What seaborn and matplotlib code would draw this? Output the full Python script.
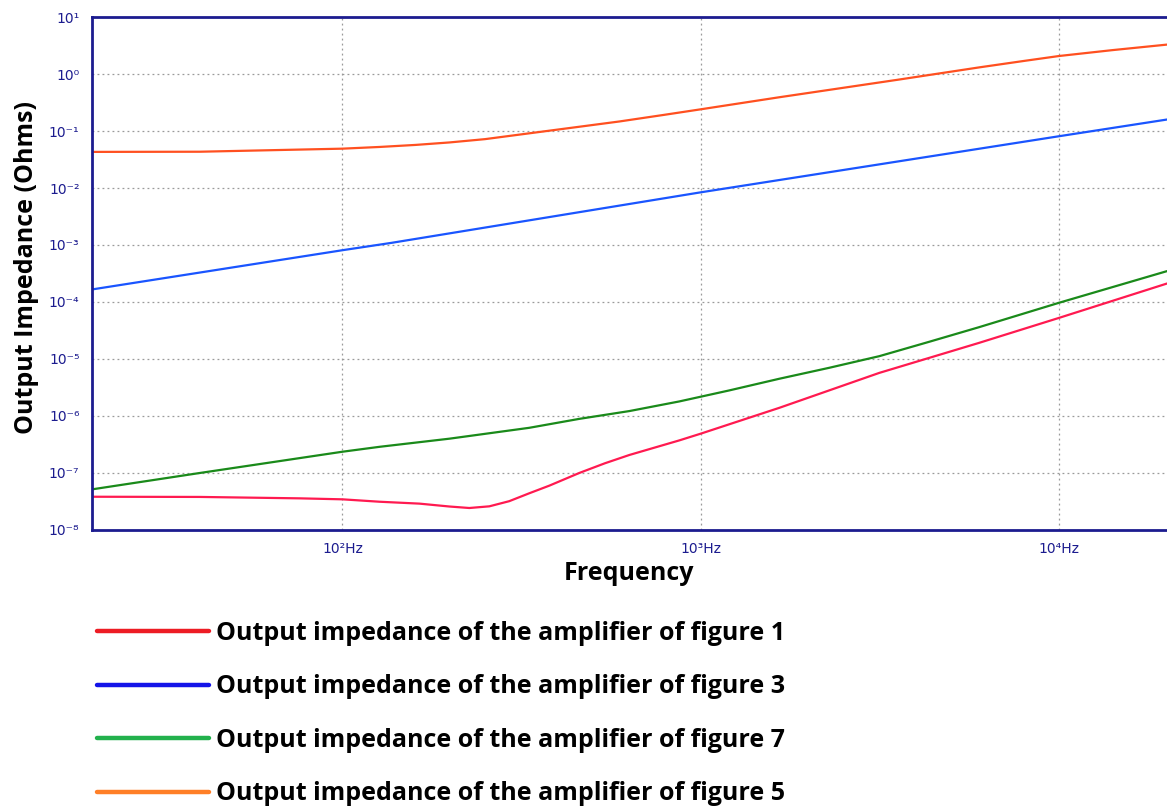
import matplotlib
matplotlib.use("Agg")
import matplotlib.pyplot as plt
from matplotlib.lines import Line2D
from matplotlib.ticker import FixedLocator, FixedFormatter, LogLocator, NullFormatter
import numpy as np
import pandas as pd
import seaborn as sns

# ---- data: output impedance (Ohms) versus frequency (Hz) ----
fig1_freq = [20, 40, 76, 100, 127, 164, 199, 226, 257, 292, 332, 378, 458,
             540, 632, 871, 1000, 1656, 3148, 5982, 10000, 20000]
fig1_z = [3.83e-8, 3.8e-8, 3.59e-8, 3.45e-8, 3.13e-8, 2.9e-8, 2.58e-8, 2.43e-8,
          2.6e-8, 3.2e-8, 4.4e-8, 6.0e-8, 1.0e-7, 1.48e-7, 2.07e-7, 3.73e-7,
          4.9e-7, 1.39e-6, 5.7e-6, 1.92e-5, 5.27e-5, 2.11e-4]

fig3_freq = [20, 100, 137, 1000, 10000, 20000]
fig3_z = [1.66e-4, 8.1e-4, 1.09e-3, 8.4e-3, 8.1e-2, 0.159]

fig7_freq = [20, 40, 100, 127, 199, 332, 458, 632, 871, 1201, 1656, 2281,
             3148, 4335, 5982, 10000, 20000]
fig7_z = [5.16e-8, 1.0e-7, 2.36e-7, 2.88e-7, 4.0e-7, 6.2e-7, 8.9e-7, 1.22e-6,
          1.8e-6, 2.81e-6, 4.5e-6, 7.0e-6, 1.12e-5, 2.0e-5, 3.62e-5, 9.7e-5,
          3.48e-4]

fig5_freq = [20, 40, 100, 127, 160, 199, 250, 354, 450, 593, 790, 990, 1656,
             3579, 6000, 8000, 10000, 14050, 20000]
fig5_z = [0.043, 0.0433, 0.049, 0.0525, 0.057, 0.063, 0.072, 0.096, 0.117,
          0.147, 0.192, 0.238, 0.391, 0.80, 1.31, 1.70, 2.07, 2.62, 3.28]

series_names = ["Output impedance of the amplifier of figure 1",
                "Output impedance of the amplifier of figure 3",
                "Output impedance of the amplifier of figure 7",
                "Output impedance of the amplifier of figure 5"]

x_tick_values = [1e2, 1e3, 1e4]
x_tick_labels = ["10²Hz", "10³Hz", "10⁴Hz"]
y_tick_values = [1e1, 1e0, 1e-1, 1e-2, 1e-3, 1e-4, 1e-5, 1e-6, 1e-7, 1e-8]
y_tick_labels = ["10¹", "10⁰", "10⁻¹", "10⁻²", "10⁻³", "10⁻⁴", "10⁻⁵",
                 "10⁻⁶", "10⁻⁷", "10⁻⁸"]

# ---- styling ----
line_colors = ["#ff1a50", "#1a55ff", "#1a8a1a", "#ff5020"]
legend_colors = ["#ed1c24", "#1414e8", "#22b14c", "#ff7f27"]
navy = "#1c1c8f"

df = pd.concat([
    pd.DataFrame({"freq": f, "z": z, "series": name})
    for f, z, name in zip([fig1_freq, fig3_freq, fig7_freq, fig5_freq],
                          [fig1_z, fig3_z, fig7_z, fig5_z],
                          series_names)
], ignore_index=True)

sns.set_style("white")
plt.rcParams["font.family"] = ["DejaVu Sans"]
plt.rcParams["text.color"] = "black"
plt.rcParams["axes.labelcolor"] = "black"

fig = plt.figure(figsize=(11.67, 8.10), dpi=100)
ax = fig.add_axes([0.0788, 0.3457, 0.9212, 0.6333])

sns.lineplot(data=df, x="freq", y="z", hue="series", hue_order=series_names,
             palette=line_colors, estimator=None, sort=True, linewidth=1.6,
             legend=False, ax=ax)

ax.set_xscale("log")
ax.set_yscale("log")
ax.set_xlim(20, 20000)
ax.set_ylim(1e-8, 10)

ax.xaxis.set_major_locator(FixedLocator(x_tick_values))
ax.xaxis.set_major_formatter(FixedFormatter(x_tick_labels))
ax.xaxis.set_minor_locator(LogLocator(base=10, subs=np.arange(2, 10)))
ax.xaxis.set_minor_formatter(NullFormatter())
ax.yaxis.set_major_locator(FixedLocator(y_tick_values))
ax.yaxis.set_major_formatter(FixedFormatter(y_tick_labels))
ax.yaxis.set_minor_locator(LogLocator(base=10, subs=np.arange(2, 10), numticks=20))
ax.yaxis.set_minor_formatter(NullFormatter())

ax.tick_params(axis="both", which="major", direction="out", length=6, width=1.6,
               color=navy, labelcolor=navy, labelsize=10, pad=3)
ax.tick_params(axis="both", which="minor", direction="out", length=4, width=1.3,
               color=navy)

ax.grid(True, which="major", linestyle=(0, (1.5, 2.5)), color="#9a9a9a",
        linewidth=0.9)
ax.grid(False, which="minor")

for side in ["top", "left", "bottom"]:
    ax.spines[side].set_color(navy)
    ax.spines[side].set_linewidth(2)
ax.spines["right"].set_visible(False)

ax.set_xlabel("Frequency", fontsize=18, fontweight="bold", family="Open Sans",
              color="black", labelpad=3)
ax.set_ylabel("Output Impedance (Ohms)", fontsize=18, fontweight="bold",
              family="Open Sans", color="black", labelpad=7)
ax.yaxis.label.set_y(0.512)

handles = [Line2D([], [], color=c, linewidth=3.2) for c in legend_colors]
leg = fig.legend(handles, series_names, loc="upper left",
                 bbox_to_anchor=(0.0831, 0.2335), frameon=False,
                 prop={"family": "Open Sans", "weight": "bold", "size": 18},
                 handlelength=4.5, handletextpad=0.28, labelspacing=1.14,
                 borderpad=0, borderaxespad=0)
for t in leg.get_texts():
    t.set_color("black")

fig.savefig("out.png", dpi=100)
